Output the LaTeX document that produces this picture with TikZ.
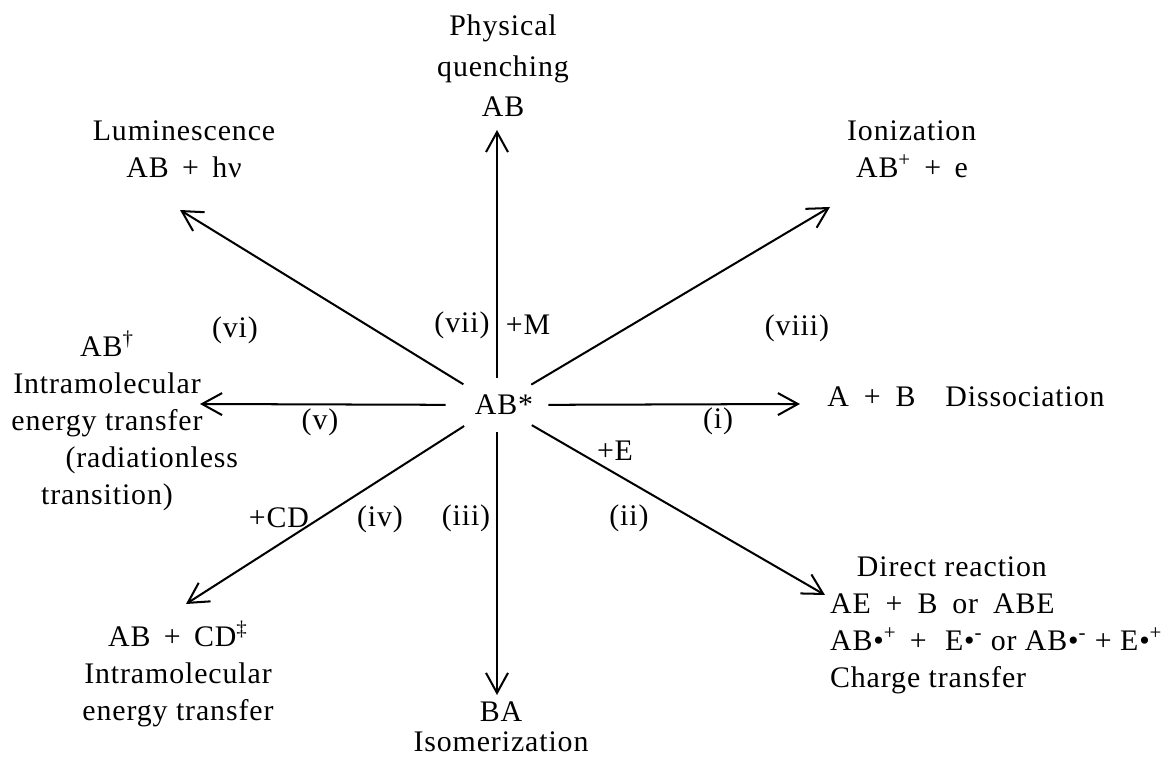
\documentclass[tikz,border=0pt]{standalone}
\usepackage{fontspec}
\setmainfont{Liberation Serif}[LetterSpace=3]
\usetikzlibrary{arrows.meta, shapes.geometric, positioning}

\begin{document}
\begin{tikzpicture}[
    x=0.02cm, y=-0.02cm,
    every node/.style = {font=\fontsize{17}{21}\selectfont, inner sep=1pt},
    centrenode/.style = {ellipse, minimum width=2cm, minimum height=1.08cm, inner sep=0pt},
    prodnode/.style = {align=center},
    tagnode/.style = {inner sep=0pt},
    react/.style = {-{Straight Barb[length=4mm, width=4.4mm]}, line width=1.15pt}
]
\useasboundingbox (0,0) rectangle (1171,760);

\node [centrenode] (abstar) at (497, 405) {\hspace*{8pt}AB*};

\coordinate (tipup) at (497, 130);
\coordinate (tipdown) at (497, 695);
\coordinate (tipright) at (800, 404);
\coordinate (tipleft) at (200, 404);
\coordinate (tipur) at (830, 207);
\coordinate (tipul) at (180, 210);
\coordinate (tiplr) at (825, 595);
\coordinate (tipll) at (186, 604);

\node [prodnode, font=\fontsize{17}{23}\selectfont] (quench) at (503, 66) {Physical\\quenching\\AB};
\node [prodnode] (lumin) at (184, 149) {Luminescence\\AB\, + \,hν};
\node [prodnode, align=left, anchor=west] (ioniz) at (845, 149) {Ionization\\\hspace*{0.3em}AB\textsuperscript{+}\, + \,e};
\node [anchor=base west, inner sep=0pt] (dissoc) at (827, 407) {A\enspace+\enspace B\quad Dissociation};
\node [prodnode, align=left, anchor=west] (direct) at (828, 625) {\hspace*{0.9em}Direct reaction\\AE\enspace+\enspace B\enspace or\enspace ABE\\AB\textbullet\textsuperscript{+}\, + \,\,E\textbullet\textsuperscript{-} or AB\textbullet\textsuperscript{-} + E\textbullet\textsuperscript{+}\\Charge transfer};
\node [prodnode, font=\fontsize{17}{17}\selectfont] (isomer) at (501, 727) {BA\\Isomerization};
\node [prodnode] (intercd) at (178, 674) {AB\, + \,CD\textsuperscript{\textdaggerdbl}\\Intramolecular\\energy transfer};
\node [prodnode] (intrarad) at (107, 421) {AB\textsuperscript{\textdagger}\\Intramolecular\\energy transfer\\\hspace*{3em}(radiationless\\transition)};

\node [tagnode] (tvi) at (235, 330) {(vi)};
\node [tagnode] (tvii) at (462, 325) {(vii)};
\node [tagnode] (addm) at (528, 325) {+M};
\node [tagnode] (tviii) at (797, 328) {(viii)};
\node [tagnode] (tv) at (320, 422) {(v)};
\node [tagnode] (ti) at (718, 421) {(i)};
\node [tagnode] (adde) at (615, 451) {+E};
\node [tagnode] (tii) at (629, 518) {(ii)};
\node [tagnode] (tiii) at (466, 518) {(iii)};
\node [tagnode] (tiv) at (380, 519) {(iv)};
\node [tagnode] (addcd) at (279, 518) {+CD};

\draw[react] (abstar) -- (tipup);
\draw[react] (abstar) -- (tipdown);
\draw[react] (abstar) -- (tipright);
\draw[react] (abstar) -- (tipleft);
\draw[react] (abstar) -- (tipur);
\draw[react] (abstar) -- (tipul);
\draw[react] (abstar) -- (tiplr);
\draw[react] (abstar) -- (tipll);

\end{tikzpicture}
\end{document}
